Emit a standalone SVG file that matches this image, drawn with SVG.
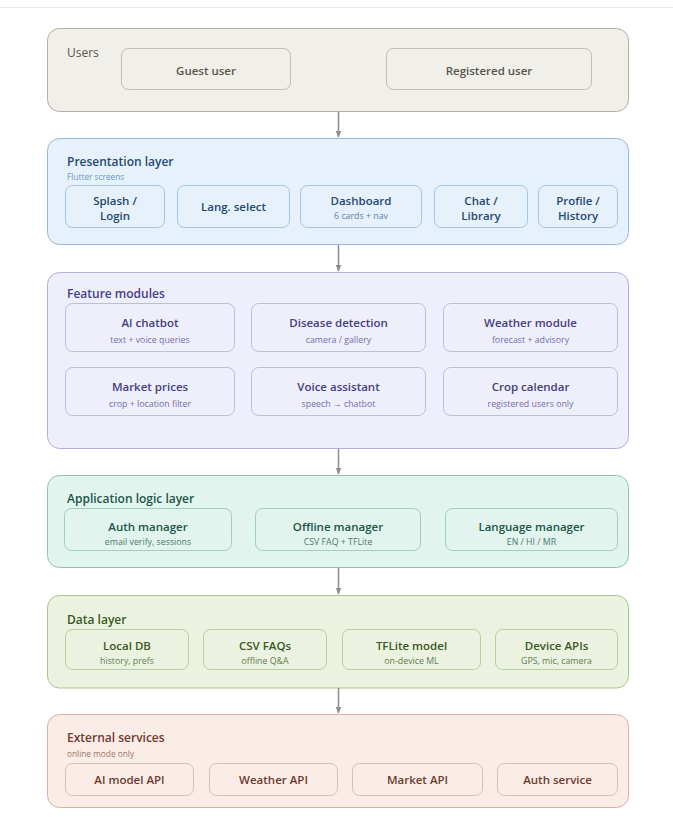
<svg xmlns="http://www.w3.org/2000/svg" width="673" height="817" viewBox="0 0 673 817">
<defs>
<marker id="ah" viewBox="0 0 10 10" refX="9" refY="5" markerWidth="7" markerHeight="7" markerUnits="userSpaceOnUse" orient="auto">
<path d="M0,1 L10,5 L0,9 Z" fill="#8c8c8c"/>
</marker>
<style>
text{font-family:"Open Sans","Noto Sans","Liberation Sans",sans-serif;}
.t{font-size:12px;font-weight:600;}
.n{font-size:11.5px;font-weight:600;text-anchor:middle;}
.s{font-size:8.8px;font-weight:400;text-anchor:middle;}
.ls{font-size:8.3px;font-weight:400;}
.outer{stroke-width:1;}
.node{stroke-width:0.8;}
.gray rect{fill:#f1efe9;stroke:#b3b0a8;}
.gray text{fill:#56554f;}
.blue rect{fill:#e7f1fb;stroke:#93bade;}
.blue text{fill:#244a70;}
.blue .ls{fill:#6a97c6;}
.purple rect{fill:#efeefb;stroke:#b3afdc;}
.purple text{fill:#463f80;}
.purple .s{fill:#7470a6;}
.teal rect{fill:#e2f4ee;stroke:#8ec5b2;}
.teal text{fill:#1b5648;}
.teal .s{fill:#4c7a6c;}
.green rect{fill:#ebf3e0;stroke:#a9c58e;}
.green text{fill:#3a5723;}
.green .s{fill:#647a4c;}
.coral rect{fill:#faede8;stroke:#d9b0a5;}
.coral text{fill:#6d3a2e;}
.coral .ls{fill:#a07468;}
.conn line{stroke:#8c8c8c;stroke-width:1.5;marker-end:url(#ah);}
</style>
</defs>
<rect x="0" y="0" width="673" height="817" fill="#ffffff"/>
<line x1="0" y1="7.5" x2="673" y2="7.5" stroke="#e8e8e8" stroke-width="1"/>

<g id="layer-users" class="gray">
<rect class="outer" x="47.5" y="28.5" width="581" height="83" rx="12"/>
<text class="t" x="67" y="57" style="font-weight:500">Users</text>
<g id="guest-user"><rect class="node" x="121.5" y="48.5" width="169" height="41" rx="7"/><text class="n" x="206" y="75">Guest user</text></g>
<g id="registered-user"><rect class="node" x="386.5" y="48.5" width="205" height="41" rx="7"/><text class="n" x="489" y="75">Registered user</text></g>
</g>

<g id="layer-presentation" class="blue">
<rect class="outer" x="47.5" y="138.5" width="581" height="106" rx="12"/>
<text class="t" x="67" y="166">Presentation layer</text>
<text class="ls" x="67" y="180">Flutter screens</text>
<g id="splash-login"><rect class="node" x="65.5" y="185.5" width="99" height="42" rx="7"/><text class="n" x="115" y="205">Splash /</text><text class="n" x="115" y="220">Login</text></g>
<g id="lang-select"><rect class="node" x="177.5" y="185.5" width="112" height="42" rx="7"/><text class="n" x="233.5" y="211">Lang. select</text></g>
<g id="dashboard"><rect class="node" x="300.5" y="185.5" width="121" height="42" rx="7"/><text class="n" x="361" y="205">Dashboard</text><text class="s" x="361" y="219" style="fill:#5a82ad">6 cards + nav</text></g>
<g id="chat-library"><rect class="node" x="434.5" y="185.5" width="93" height="42" rx="7"/><text class="n" x="481" y="205">Chat /</text><text class="n" x="481" y="220">Library</text></g>
<g id="profile-history"><rect class="node" x="538.5" y="185.5" width="79" height="42" rx="7"/><text class="n" x="578" y="205">Profile /</text><text class="n" x="578" y="220">History</text></g>
</g>

<g id="layer-features" class="purple">
<rect class="outer" x="47.5" y="272.5" width="581" height="176" rx="12"/>
<text class="t" x="67" y="298">Feature modules</text>
<g id="ai-chatbot"><rect class="node" x="65.5" y="303.5" width="169" height="48" rx="7"/><text class="n" x="150" y="327">AI chatbot</text><text class="s" x="150" y="343">text + voice queries</text></g>
<g id="disease-detection"><rect class="node" x="251.5" y="303.5" width="174" height="48" rx="7"/><text class="n" x="338.5" y="327">Disease detection</text><text class="s" x="338.5" y="343">camera / gallery</text></g>
<g id="weather-module"><rect class="node" x="443.5" y="303.5" width="174" height="48" rx="7"/><text class="n" x="530.5" y="327">Weather module</text><text class="s" x="530.5" y="343">forecast + advisory</text></g>
<g id="market-prices"><rect class="node" x="65.5" y="367.5" width="169" height="48" rx="7"/><text class="n" x="150" y="391">Market prices</text><text class="s" x="150" y="407">crop + location filter</text></g>
<g id="voice-assistant"><rect class="node" x="251.5" y="367.5" width="174" height="48" rx="7"/><text class="n" x="338.5" y="391">Voice assistant</text><text class="s" x="338.5" y="407">speech → chatbot</text></g>
<g id="crop-calendar"><rect class="node" x="443.5" y="367.5" width="174" height="48" rx="7"/><text class="n" x="530.5" y="391">Crop calendar</text><text class="s" x="530.5" y="407">registered users only</text></g>
</g>

<g id="layer-logic" class="teal">
<rect class="outer" x="47.5" y="475.5" width="581" height="92" rx="12"/>
<text class="t" x="67" y="503">Application logic layer</text>
<g id="auth-manager"><rect class="node" x="64.5" y="508.5" width="167" height="42" rx="7"/><text class="n" x="148" y="531">Auth manager</text><text class="s" x="148" y="545">email verify, sessions</text></g>
<g id="offline-manager"><rect class="node" x="255.5" y="508.5" width="165" height="42" rx="7"/><text class="n" x="338" y="531">Offline manager</text><text class="s" x="338" y="545">CSV FAQ + TFLite</text></g>
<g id="language-manager"><rect class="node" x="445.5" y="508.5" width="172" height="42" rx="7"/><text class="n" x="531.5" y="531">Language manager</text><text class="s" x="531.5" y="545">EN / HI / MR</text></g>
</g>

<g id="layer-data" class="green">
<rect class="outer" x="47.5" y="595.5" width="581" height="92.5" rx="12"/>
<text class="t" x="67" y="624">Data layer</text>
<g id="local-db"><rect class="node" x="65.5" y="629.5" width="123" height="40" rx="7"/><text class="n" x="127" y="650">Local DB</text><text class="s" x="127" y="664">history, prefs</text></g>
<g id="csv-faqs"><rect class="node" x="203.5" y="629.5" width="123" height="40" rx="7"/><text class="n" x="265" y="650">CSV FAQs</text><text class="s" x="265" y="664">offline Q&amp;A</text></g>
<g id="tflite-model"><rect class="node" x="342.5" y="629.5" width="138" height="40" rx="7"/><text class="n" x="411.5" y="650">TFLite model</text><text class="s" x="411.5" y="664">on-device ML</text></g>
<g id="device-apis"><rect class="node" x="495.5" y="629.5" width="122" height="40" rx="7"/><text class="n" x="556.5" y="650">Device APIs</text><text class="s" x="556.5" y="664">GPS, mic, camera</text></g>
</g>

<g id="layer-external" class="coral">
<rect class="outer" x="47.5" y="714.5" width="581" height="93" rx="12"/>
<text class="t" x="67" y="742">External services</text>
<text class="ls" x="67" y="757">online mode only</text>
<g id="ai-model-api"><rect class="node" x="65.5" y="763.5" width="128" height="32" rx="7"/><text class="n" x="129.5" y="784">AI model API</text></g>
<g id="weather-api"><rect class="node" x="209.5" y="763.5" width="128" height="32" rx="7"/><text class="n" x="273.5" y="784">Weather API</text></g>
<g id="market-api"><rect class="node" x="352.5" y="763.5" width="130" height="32" rx="7"/><text class="n" x="417.5" y="784">Market API</text></g>
<g id="auth-service"><rect class="node" x="497.5" y="763.5" width="120" height="32" rx="7"/><text class="n" x="557.5" y="784">Auth service</text></g>
</g>

<g id="connectors" class="conn">
<line x1="338.5" y1="112" x2="338.5" y2="137"/>
<line x1="338.5" y1="245" x2="338.5" y2="271"/>
<line x1="338.5" y1="449" x2="338.5" y2="474"/>
<line x1="338.5" y1="568" x2="338.5" y2="594"/>
<line x1="338.5" y1="688" x2="338.5" y2="713"/>
</g>
</svg>
